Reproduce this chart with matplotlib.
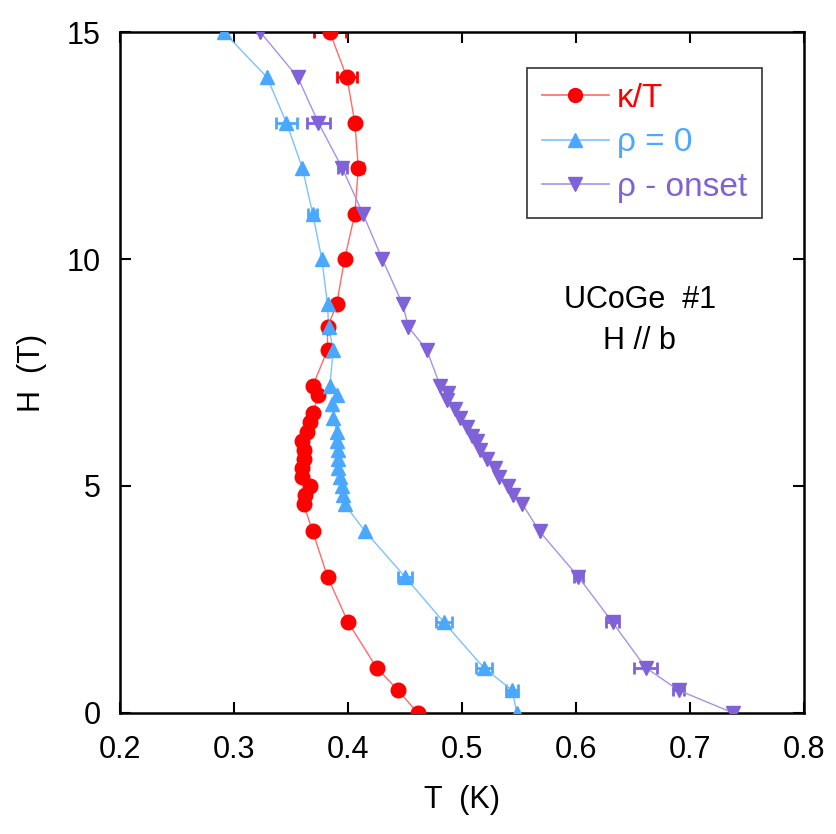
import matplotlib
matplotlib.use("Agg")
import matplotlib.pyplot as plt

plt.rcParams['font.family'] = ['Liberation Sans', 'DejaVu Sans']

# kappa/T data (T in K, H in T)
kappa_T = [0.461, 0.444, 0.425, 0.400, 0.382, 0.369, 0.361, 0.362, 0.367, 0.360, 0.360,
           0.361, 0.361, 0.360, 0.364, 0.367, 0.369, 0.374, 0.369, 0.382, 0.382, 0.390,
           0.397, 0.406, 0.409, 0.406, 0.399, 0.384]
kappa_H = [0.0, 0.5, 1.0, 2.0, 3.0, 4.0, 4.6, 4.8, 5.0, 5.2, 5.4,
           5.6, 5.8, 6.0, 6.2, 6.4, 6.6, 7.0, 7.2, 8.0, 8.5, 9.0,
           10.0, 11.0, 12.0, 13.0, 14.0, 15.0]
kappa_err = [0, 0, 0, 0, 0, 0, 0, 0, 0, 0, 0,
             0, 0, 0, 0, 0, 0, 0, 0, 0, 0, 0,
             0, 0, 0.004, 0, 0.009, 0.014]

# rho = 0
rho0_T = [0.548, 0.544, 0.519, 0.484, 0.450, 0.415, 0.397, 0.396, 0.395, 0.393, 0.391,
          0.391, 0.391, 0.390, 0.390, 0.387, 0.386, 0.390, 0.384, 0.387, 0.383, 0.382,
          0.377, 0.369, 0.360, 0.346, 0.329, 0.291]
rho0_H = [0.0, 0.5, 1.0, 2.0, 3.0, 4.0, 4.6, 4.8, 5.0, 5.2, 5.4,
          5.6, 5.8, 6.0, 6.2, 6.5, 6.8, 7.0, 7.2, 8.0, 8.5, 9.0,
          10.0, 11.0, 12.0, 13.0, 14.0, 15.0]
rho0_err = [0, 0.005, 0.007, 0.007, 0.006, 0, 0, 0, 0, 0, 0,
            0, 0, 0, 0, 0, 0, 0, 0, 0, 0, 0,
            0, 0.004, 0, 0.009, 0, 0]

# rho onset
onset_T = [0.738, 0.690, 0.661, 0.632, 0.602, 0.568, 0.553, 0.545, 0.540, 0.532, 0.529,
           0.522, 0.516, 0.513, 0.509, 0.504, 0.498, 0.494, 0.487, 0.488, 0.481, 0.469,
           0.453, 0.448, 0.430, 0.413, 0.395, 0.374, 0.356, 0.323]
onset_H = [0.0, 0.5, 1.0, 2.0, 3.0, 4.0, 4.6, 4.8, 5.0, 5.2, 5.4,
           5.6, 5.8, 6.0, 6.1, 6.3, 6.5, 6.7, 6.9, 7.05, 7.2, 8.0,
           8.5, 9.0, 10.0, 11.0, 12.0, 13.0, 14.0, 15.0]
onset_err = [0, 0.005, 0.010, 0.006, 0.004, 0, 0, 0, 0, 0, 0,
             0, 0, 0, 0, 0, 0, 0, 0, 0, 0, 0,
             0, 0, 0, 0, 0.004, 0.010, 0, 0]

series = [
    (kappa_T, kappa_H, kappa_err, 'o', '#ff0000', '#ff6a6a', u'\u03ba/T'),
    (rho0_T, rho0_H, rho0_err, '^', '#4aa8ff', '#7cc2ff', u'\u03c1 = 0'),
    (onset_T, onset_H, onset_err, 'v', '#7f62d8', '#a593e6', u'\u03c1 - onset'),
]

fig = plt.figure(figsize=(8.37, 8.34), dpi=100)
ax = fig.add_axes([0.1434, 0.1451, 0.8172, 0.8165])

for T, H, err, mk, col, lcol, lab in series:
    ax.errorbar(T, H, xerr=err, fmt='none', ecolor=col, elinewidth=2.0,
                capsize=4, capthick=2.0, zorder=2)
    ax.plot(T, H, '-', color=lcol, lw=1.0, zorder=2)
    ax.plot(T, H, mk, color=col, ms=10.5, mec=col, zorder=3)

# legend proxies
handles = []
for T, H, err, mk, col, lcol, lab in series:
    h, = ax.plot([], [], '-', color=lcol, lw=1.2, marker=mk, ms=10, mfc=col, mec=col)
    handles.append(h)
leg = ax.legend(handles, [s[6] for s in series], loc='upper right',
                bbox_to_anchor=(0.9386, 0.947), fontsize=24, frameon=True,
                fancybox=False, edgecolor='black', handlelength=2.0,
                handletextpad=0.25, borderpad=0.45, labelspacing=0.4,
                borderaxespad=0)
leg.get_frame().set_linewidth(1.2)
for txt, s in zip(leg.get_texts(), series):
    txt.set_color(s[4])

ax.text(0.656, 9.1, 'UCoGe  #1', ha='center', va='center', fontsize=22)
ax.text(0.656, 8.2, 'H // b', ha='center', va='center', fontsize=22)

ax.set_xlim(0.2, 0.8)
ax.set_ylim(0, 15)
ax.set_xticks([0.2, 0.3, 0.4, 0.5, 0.6, 0.7, 0.8])
ax.set_xticklabels(['0.2', '0.3', '0.4', '0.5', '0.6', '0.7', '0.8'])
ax.set_yticks([0, 5, 10, 15])
ax.tick_params(direction='in', length=8, width=1.5, top=True, right=True,
               labelsize=22)
ax.tick_params(axis='x', pad=16)
ax.tick_params(axis='y', pad=14)
for sp in ax.spines.values():
    sp.set_linewidth(1.8)

ax.set_xlabel('T  (K)', fontsize=22, labelpad=14)
ax.set_ylabel('H  (T)', fontsize=22, labelpad=14)

fig.savefig('out.png', dpi=100)
